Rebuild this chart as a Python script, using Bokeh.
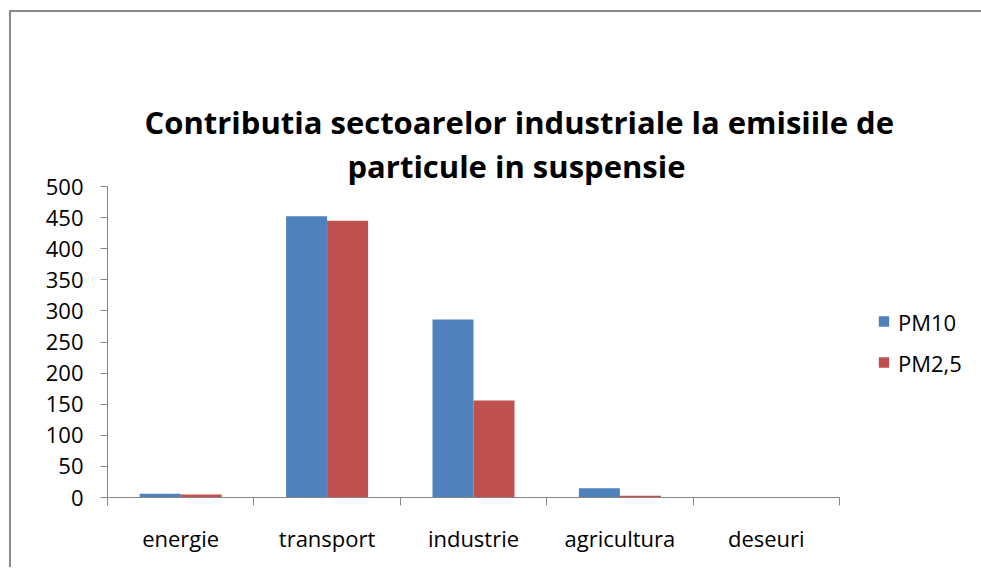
from bokeh.plotting import figure
from bokeh.models import ColumnDataSource, FixedTicker, Legend, LegendItem, Title, Range1d
from bokeh.embed import file_html
from bokeh.resources import INLINE

# ---- data ----
categories = ["energie", "transport", "industrie", "agricultura", "deseuri"]
pm10 = [6, 452, 286, 15, 0]
pm25 = [5, 445, 156, 3, 0]
series_names = ["PM10", "PM2,5"]
y_ticks = [0, 50, 100, 150, 200, 250, 300, 350, 400, 450, 500]
title_lines = ["Contributia sectoarelor industriale la emisiile de",
               "particule in suspensie"]

BLUE = "#4F81BD"
RED = "#C0504D"
FONT = "Open Sans"
AXIS_GRAY = "#868686"

n = len(categories)
centers = [i + 0.5 for i in range(n)]
bar_w = 0.28
src = ColumnDataSource(dict(
    x1=[c - bar_w / 2 for c in centers],
    x2=[c + bar_w / 2 for c in centers],
    pm10=pm10, pm25=pm25))

p = figure(frame_width=732, frame_height=311, x_range=Range1d(0, n), y_range=Range1d(0, 500),
           output_backend="svg", toolbar_location=None,
           min_border_left=96, min_border_right=136,
           min_border_top=174, min_border_bottom=70)
p.styles = {"border-top": "2px solid #8a8a8a", "border-left": "2px solid #8a8a8a"}
p.margin = (10, 0, 0, 9)
p.outline_line_color = None
p.grid.visible = False
p.background_fill_color = "white"
p.border_fill_color = "white"

r1 = p.vbar(x="x1", top="pm10", width=bar_w, source=src, fill_color=BLUE, line_color=None)
r2 = p.vbar(x="x2", top="pm25", width=bar_w, source=src, fill_color=RED, line_color=None)

# y axis
ya = p.yaxis[0]
ya.ticker = FixedTicker(ticks=y_ticks, minor_ticks=[])
ya.axis_line_color = AXIS_GRAY
ya.major_tick_line_color = AXIS_GRAY
ya.major_tick_out = 7
ya.major_tick_in = 0
ya.minor_tick_line_color = None
ya.major_label_text_font = FONT
ya.major_label_text_font_size = "22px"
ya.major_label_text_color = "#000000"
ya.major_label_standoff = 17

# x axis: labels at centers, boundary ticks as minor ticks
xa = p.xaxis[0]
xa.ticker = FixedTicker(ticks=centers, minor_ticks=list(range(n + 1)))
xa.major_label_overrides = {c: name for c, name in zip(centers, categories)}
xa.axis_line_color = AXIS_GRAY
xa.major_tick_line_color = None
xa.minor_tick_line_color = AXIS_GRAY
xa.minor_tick_out = 8
xa.minor_tick_in = 0
xa.major_tick_out = 8
xa.major_tick_in = 0
xa.major_label_text_font = FONT
xa.major_label_text_font_size = "22px"
xa.major_label_text_color = "#000000"
xa.major_label_standoff = 17

# spacer between plot area and title (first added sits nearest the plot area)
p.add_layout(Title(text=".", standoff=60, text_font_size="1px", text_alpha=0,
                   text_color="white"), "above")
# title: two lines, each its own Title
for line, off in [(title_lines[1], 240), (title_lines[0], 37)]:
    p.add_layout(Title(text=line, align="left", offset=off, standoff=0,
                       text_font=FONT, text_font_style="bold", text_font_size="31px",
                       text_color="#000000"), "above")

legend = Legend(items=[LegendItem(label=series_names[0], renderers=[r1]),
                       LegendItem(label=series_names[1], renderers=[r2])],
                location="center_left")
legend.padding = 0
legend.margin = 38
legend.border_line_color = None
legend.background_fill_alpha = 0
legend.glyph_width = 13
legend.glyph_height = 13
legend.label_standoff = 8
legend.label_text_font = FONT
legend.label_text_font_size = "22px"
legend.label_text_color = "#000000"
legend.spacing = 11
p.add_layout(legend, "right")

open("out.html", "w").write(file_html(p, INLINE))
